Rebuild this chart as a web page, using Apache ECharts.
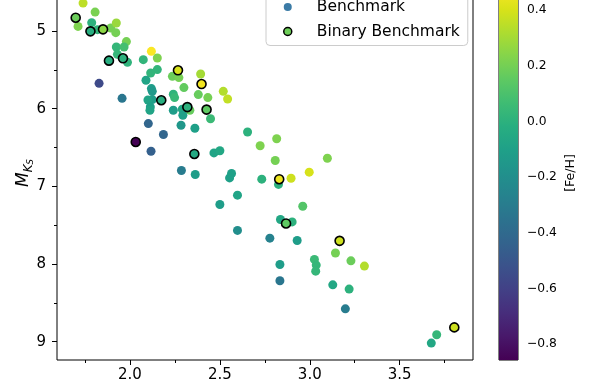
<!DOCTYPE html>
<html>
<head>
<meta charset="utf-8">
<script src="https://cdn.jsdelivr.net/npm/echarts@6/dist/echarts.min.js"></script>
<style>
html,body{margin:0;padding:0;background:#fff;}
#chart{width:598px;height:390px;}
</style>
</head>
<body>
<div id="chart"></div>
<script>
// Benchmark stars: colour index, M_Ks, [Fe/H]
const benchColour = [1.739,1.806,1.711,1.787,1.819,1.893,1.924,1.921,1.980,1.924,1.967,1.930,1.986,2.119,2.152,2.074,2.152,2.115,2.089,1.828,1.956,2.236,2.272,2.393,2.300,2.119,2.124,2.124,2.100,2.113,2.111,2.241,2.248,2.380,2.433,2.519,2.543,2.333,2.291,2.241,2.294,2.448,2.102,2.186,2.284,2.361,2.117,2.467,2.500,2.654,2.724,2.816,2.808,3.098,2.286,2.363,2.565,2.554,2.598,2.733,2.826,2.896,2.997,2.500,2.598,2.778,2.961,2.837,2.902,2.930,3.143,3.229,3.304,3.026,3.036,3.033,2.834,2.834,3.128,3.219,3.198,3.706,3.676];
const benchMks    = [4.640,4.756,4.940,4.892,4.982,4.961,4.897,5.021,5.136,5.206,5.206,5.300,5.403,5.261,5.347,5.368,5.496,5.540,5.634,5.673,5.866,5.583,5.599,5.553,5.728,5.741,5.776,5.882,5.887,5.978,6.020,5.814,5.857,5.818,5.857,5.776,5.875,6.020,6.007,6.020,6.084,6.129,6.191,6.332,6.213,6.251,6.547,6.569,6.541,6.299,6.476,6.386,6.667,6.637,6.796,6.847,6.834,6.891,7.113,6.907,6.974,6.895,6.817,7.233,7.567,7.666,7.255,7.426,7.457,7.696,7.857,7.958,8.026,7.940,8.013,8.091,8.005,8.215,8.267,8.322,8.576,8.910,9.017];
const benchFeh    = [0.35,0.21,0.22,0.00,0.02,0.20,0.28,0.20,0.20,0.03,0.08,0.03,0.01,0.48,0.22,0.02,0.02,0.02,-0.08,-0.56,-0.33,0.18,0.20,0.30,0.16,-0.12,-0.14,-0.12,-0.08,-0.10,-0.08,0.01,0.04,0.17,0.20,0.33,0.36,0.17,-0.06,-0.12,-0.10,0.05,-0.42,-0.42,-0.15,-0.10,-0.45,-0.08,-0.06,0.00,0.22,0.22,0.20,0.22,-0.30,-0.12,-0.10,-0.10,-0.08,0.00,0.00,0.38,0.40,-0.12,-0.20,-0.27,0.12,-0.06,0.00,-0.12,0.20,0.18,0.33,0.05,0.03,0.03,-0.12,-0.33,-0.06,0.00,-0.30,0.03,-0.06];

// Binary benchmark stars
const binColour = [1.698,1.780,1.850,1.883,1.961,2.267,2.398,2.174,2.319,2.426,2.032,2.358,2.830,2.868,3.166,3.804];
const binMks    = [4.828,5.004,4.978,5.381,5.351,5.505,5.682,5.891,5.979,6.011,6.428,6.582,6.907,7.477,7.701,8.815];
const binFeh    = [0.18,-0.02,0.25,-0.02,0.00,0.40,0.46,-0.02,0.00,0.15,-0.857,-0.05,0.45,0.15,0.38,0.38];

const xMajor = [2.0,2.5,3.0,3.5];
const xMinor = [1.75,2.25,2.75,3.25,3.75];
const yMajor = [5,6,7,8,9];
const yMinor = [4.5,5.5,6.5,7.5,8.5];
const cbTicks = [-0.8,-0.6,-0.4,-0.2,0.0,0.2,0.4];
const fehMin = -0.857, fehMax = 0.486;

const viridis = ['#440154','#48186a','#472d7b','#424086','#3b528b','#33638d','#2c728e','#26828e','#21918c','#1fa088','#28ae80','#3fbc73','#5ec962','#84d44b','#addc30','#d8e219','#fde725'];

const FONT = 'DejaVu Sans';
const benchData = benchColour.map((x,i)=>[x, benchMks[i], benchFeh[i]]);
const binData = binColour.map((x,i)=>[x, binMks[i], binFeh[i]]);

const chart = echarts.init(document.getElementById('chart'), null, {renderer:'canvas'});
const minusFmt = v => (v < -1e-9 ? '\u2212' : '') + Math.abs(v).toFixed(1);

chart.setOption({
  animation: false,
  backgroundColor: '#ffffff',
  grid: [
    {left: 57, right: 125, top: -14, bottom: 30, show: true, borderColor: '#000', borderWidth: 1, backgroundColor: 'transparent', containLabel: false, outerBoundsMode: 'none'},
    {left: 499, right: 80, top: -14, bottom: 30, show: true, borderColor: '#000', borderWidth: 1, backgroundColor: 'transparent', containLabel: false, outerBoundsMode: 'none'}
  ],
  xAxis: [
    {gridIndex: 0, type: 'value', min: 1.594, max: 3.908, position: 'bottom',
     axisLine: {show: false}, splitLine: {show: false},
     axisTick: {show: true, length: 5, inside: false, customValues: xMajor, lineStyle: {color: '#000', width: 1}},
     axisLabel: {customValues: xMajor, formatter: v => v.toFixed(1), color: '#000', fontFamily: FONT, fontSize: 15, margin: 8},
     name: '{i|G \u2212 K}{s|S}', nameLocation: 'middle', nameGap: 30.5, nameMoveOverlap: false,
     nameTextStyle: {color: '#000', fontFamily: FONT, rich: {i: {fontSize: 17, fontStyle: 'italic', fontFamily: FONT}, s: {fontSize: 12, fontStyle: 'italic', fontFamily: FONT, verticalAlign: 'bottom'}}}},
    {gridIndex: 0, type: 'value', min: 1.594, max: 3.908, position: 'bottom',
     axisLine: {show: false}, splitLine: {show: false}, axisLabel: {show: false},
     axisTick: {show: true, length: 3, customValues: xMinor, lineStyle: {color: '#000', width: 1}}},
    {gridIndex: 1, type: 'value', min: 0, max: 1, show: false}
  ],
  yAxis: [
    {gridIndex: 0, type: 'value', inverse: true, min: 4.42, max: 9.235, position: 'left',
     axisLine: {show: false}, splitLine: {show: false},
     axisTick: {show: true, length: 5, customValues: yMajor, lineStyle: {color: '#000', width: 1}},
     axisLabel: {customValues: yMajor, formatter: v => String(Math.round(v)), color: '#000', fontFamily: FONT, fontSize: 15, margin: 11},
     name: '{m|M}{k|K}{s|S}', nameLocation: 'middle', nameRotate: 90, nameGap: 22, nameMoveOverlap: false,
     nameTextStyle: {color: '#000', fontFamily: FONT, rich: {
       m: {fontSize: 17, fontStyle: 'italic', fontFamily: FONT, lineHeight: 22},
       k: {fontSize: 12, fontStyle: 'italic', fontFamily: FONT, verticalAlign: 'bottom', lineHeight: 10},
       s: {fontSize: 8.5, fontStyle: 'italic', fontFamily: FONT, verticalAlign: 'bottom', lineHeight: 4}}}},
    {gridIndex: 0, type: 'value', inverse: true, min: 4.42, max: 9.235, position: 'left',
     axisLine: {show: false}, splitLine: {show: false}, axisLabel: {show: false},
     axisTick: {show: true, length: 3, customValues: yMinor, lineStyle: {color: '#000', width: 1}}},
    {gridIndex: 1, type: 'value', min: fehMin, max: fehMax, position: 'right',
     axisLine: {show: false}, splitLine: {show: false},
     axisTick: {show: true, length: 5, customValues: cbTicks, lineStyle: {color: '#000', width: 1}},
     axisLabel: {customValues: cbTicks, formatter: minusFmt, color: '#000', fontFamily: FONT, fontSize: 12.3, margin: 9},
     name: '[Fe/H]', nameLocation: 'middle', nameRotate: 90, nameGap: 46, nameMoveOverlap: false,
     nameTextStyle: {color: '#000', fontFamily: FONT, fontSize: 12.5}}
  ],
  visualMap: {
    type: 'continuous', show: false, min: fehMin, max: fehMax, dimension: 2,
    seriesIndex: [0, 1], inRange: {color: viridis}
  },
  legend: {
    orient: 'vertical', left: 266, top: -9,
    padding: [7, 8, 5, 17], itemGap: 6.5, itemWidth: 8, itemHeight: 8,
    backgroundColor: 'rgba(255,255,255,0.8)', borderColor: '#cccccc', borderWidth: 1, borderRadius: 4,
    textStyle: {fontFamily: FONT, fontSize: 15.5, color: '#000', lineHeight: 18, padding: [0, 0, 0, 20]},
    data: [
      {name: 'Benchmark', icon: 'circle', itemStyle: {color: '#3b7ba6', borderWidth: 0}},
      {name: 'Binary Benchmark', icon: 'circle', itemStyle: {color: '#6ecf59', borderColor: '#000', borderWidth: 1.5}}
    ]
  },
  series: [
    {name: 'Benchmark', type: 'scatter', xAxisIndex: 0, yAxisIndex: 0, data: benchData,
     symbol: 'circle', symbolSize: 9, itemStyle: {opacity: 1}, z: 2},
    {name: 'Binary Benchmark', type: 'scatter', xAxisIndex: 0, yAxisIndex: 0, data: binData,
     symbol: 'circle', symbolSize: 9, itemStyle: {borderColor: '#000', borderWidth: 1.6, opacity: 1}, z: 3},
    {name: 'colorbar', type: 'custom', xAxisIndex: 2, yAxisIndex: 2, data: [[0.5, fehMin, fehMax]],
     silent: true, z: 1,
     renderItem: (params, api) => {
       const lo = api.coord([0, api.value(1)]);
       const hi = api.coord([1, api.value(2)]);
       return {type: 'rect', shape: {x: lo[0], y: hi[1], width: hi[0] - lo[0], height: lo[1] - hi[1]},
         style: {fill: new echarts.graphic.LinearGradient(0, 1, 0, 0,
           viridis.map((c, i) => ({offset: i / (viridis.length - 1), color: c})))}};
     }}
  ]
});
</script>
</body>
</html>
